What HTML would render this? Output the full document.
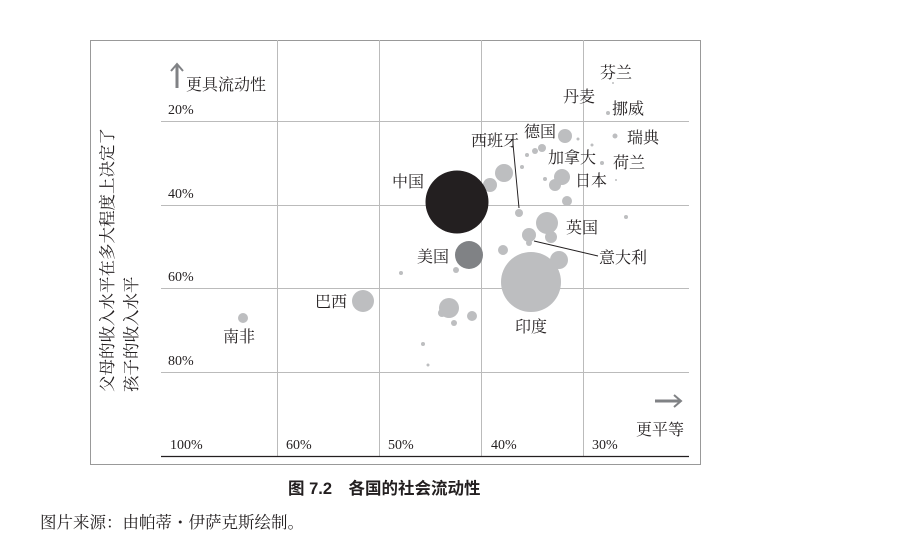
<!DOCTYPE html>
<html><head><meta charset="utf-8"><style>
html,body{margin:0;padding:0;background:#fff;width:898px;height:552px;overflow:hidden}
svg{display:block}
.s{font-family:"Liberation Serif","Noto Serif CJK SC",serif;fill:#231f20}
.t{font-family:"Liberation Serif",serif;fill:#231f20;font-size:14px}
</style></head><body>
<svg width="898" height="552" viewBox="0 0 898 552">
<rect x="90.5" y="40.5" width="610" height="424" fill="none" stroke="#999" stroke-width="1"/>
<g stroke="#bbb" stroke-width="1">
<line x1="161" y1="121.5" x2="689" y2="121.5"/>
<line x1="161" y1="205.5" x2="689" y2="205.5"/>
<line x1="161" y1="288.5" x2="689" y2="288.5"/>
<line x1="161" y1="372.5" x2="689" y2="372.5"/>
<line x1="277.5" y1="40" x2="277.5" y2="456"/>
<line x1="379.5" y1="40" x2="379.5" y2="456"/>
<line x1="481.5" y1="40" x2="481.5" y2="456"/>
<line x1="583.5" y1="40" x2="583.5" y2="456"/>
</g>
<line x1="161" y1="456.5" x2="689" y2="456.5" stroke="#231f20" stroke-width="1.3"/>
<g class="t">
<text x="168" y="114">20%</text><text x="168" y="198">40%</text><text x="168" y="281">60%</text><text x="168" y="365">80%</text>
<text x="170" y="449">100%</text><text x="286" y="449">60%</text><text x="388" y="449">50%</text><text x="491" y="449">40%</text><text x="592" y="449">30%</text>
</g>
<g fill="#bdbec0">
<circle cx="531" cy="282" r="30"/>
<circle cx="559" cy="260" r="9"/>
<circle cx="551" cy="237" r="6"/>
<circle cx="547" cy="223" r="11"/>
<circle cx="529" cy="235" r="7"/>
<circle cx="529" cy="243" r="3"/>
<circle cx="519" cy="213" r="4"/>
<circle cx="503" cy="250" r="5"/>
<circle cx="456" cy="270" r="3"/>
<circle cx="401" cy="273" r="2"/>
<circle cx="449" cy="308" r="10"/>
<circle cx="442" cy="313" r="4"/>
<circle cx="454" cy="323" r="3"/>
<circle cx="472" cy="316" r="5"/>
<circle cx="423" cy="344" r="2"/>
<circle cx="428" cy="365" r="1.5"/>
<circle cx="490" cy="185" r="7"/>
<circle cx="504" cy="173" r="9"/>
<circle cx="522" cy="167" r="2"/>
<circle cx="545" cy="179" r="2"/>
<circle cx="555" cy="185" r="6"/>
<circle cx="562" cy="177" r="8"/>
<circle cx="567" cy="201" r="5"/>
<circle cx="565" cy="136" r="7"/>
<circle cx="542" cy="148" r="4"/>
<circle cx="535" cy="151" r="3"/>
<circle cx="527" cy="155" r="2"/>
<circle cx="578" cy="139" r="1.5"/>
<circle cx="592" cy="145" r="1.5"/>
<circle cx="602" cy="163" r="2"/>
<circle cx="616" cy="180" r="1"/>
<circle cx="626" cy="217" r="2"/>
<circle cx="615" cy="136" r="2.5"/>
<circle cx="608" cy="113" r="2"/>
<circle cx="613" cy="83" r="1"/>
<circle cx="363" cy="301" r="11"/>
<circle cx="243" cy="318" r="5"/>
</g>
<circle cx="457" cy="202" r="31.5" fill="#231f20"/>
<circle cx="469" cy="255" r="14" fill="#808285"/>
<g stroke="#231f20" stroke-width="1">
<line x1="513" y1="144" x2="519" y2="208"/>
<line x1="534" y1="241" x2="598" y2="256"/>
</g>
<g class="s" font-size="16">
<text x="600" y="78">芬兰</text><text x="563" y="102">丹麦</text><text x="612" y="114">挪威</text>
<text x="627" y="143">瑞典</text><text x="613" y="168">荷兰</text><text x="548" y="163">加拿大</text>
<text x="575" y="186">日本</text><text x="524" y="137">德国</text><text x="471" y="146">西班牙</text>
<text x="392" y="187">中国</text><text x="566" y="233">英国</text><text x="599" y="263">意大利</text>
<text x="417" y="262">美国</text><text x="515" y="332">印度</text><text x="315" y="307">巴西</text>
<text x="223" y="342">南非</text>
<text x="186" y="90">更具流动性</text>
<text x="636" y="435">更平等</text>
</g>
<g class="s" font-size="16.5">
<text transform="translate(113,392) rotate(-90)" text-anchor="start">父母的收入水平在多大程度上决定了</text>
<text transform="translate(137,392) rotate(-90)" text-anchor="start">孩子的收入水平</text>
</g>
<g stroke="#808285" stroke-width="3" fill="none">
<line x1="177" y1="88" x2="177" y2="65"/>
<polyline points="171,71 177,64 183,71" stroke-width="2"/>
<line x1="655" y1="401" x2="680" y2="401"/>
<polyline points="674,395 681,401 674,407" stroke-width="2"/>
</g>
<text x="288" y="494" font-family="Liberation Sans,'Noto Sans CJK SC',sans-serif" font-size="16.5" font-weight="bold" fill="#231f20">图 7.2　各国的社会流动性</text>
<text x="40" y="528" class="s" font-size="16.5">图片来源：由帕蒂・伊萨克斯绘制。</text>
</svg>
</body></html>
